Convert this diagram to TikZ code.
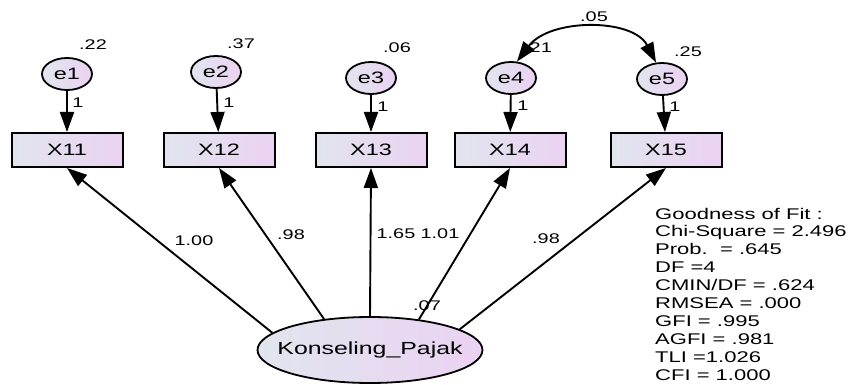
\documentclass[tikz,border=0pt]{standalone}
\usepackage{fontspec}
\setmainfont{Liberation Sans}
\usetikzlibrary{arrows.meta,shapes.geometric}
\definecolor{gl}{RGB}{225,229,238}
\definecolor{gr}{RGB}{235,210,242}
\newcommand{\hs}[1]{\scalebox{1.42}[1]{#1}}
\begin{document}
\begin{tikzpicture}[x=1pt,y=-1pt,
 obs/.style={draw, line width=2pt, left color=gl, right color=gr, minimum width=111pt, minimum height=34pt, inner sep=0pt, font=\fontsize{16.5}{18}\selectfont},
 err/.style={ellipse, draw, line width=1.8pt, left color=gl, right color=gr, minimum width=50pt, minimum height=32pt, inner sep=0pt, font=\fontsize{16.5}{18}\selectfont},
 lat/.style={ellipse, draw, line width=1.8pt, left color=gl, right color=gr, minimum width=225pt, minimum height=66pt, inner sep=0pt, font=\fontsize{17.5}{20}\selectfont},
 num/.style={inner sep=0pt, font=\fontsize{14}{16}\selectfont},
 fittext/.style={inner sep=0pt, font=\fontsize{15.5}{17.9}\selectfont},
 arr/.style={-{Triangle[length=20pt,width=14pt]}, line width=1.9pt},
 cov/.style={{Triangle[length=20pt,width=14pt]}-{Triangle[length=20pt,width=14pt]}, line width=1.9pt}]
\useasboundingbox (0,0) rectangle (854,385);
% observed variables
\node[obs] (x11) at (67,150) {\hs{X11}};
\node[obs] (x12) at (219,150) {\hs{X12}};
\node[obs] (x13) at (371,150) {\hs{X13}};
\node[obs] (x14) at (510,150) {\hs{X14}};
\node[obs] (x15) at (666,150) {\hs{X15}};
% errors
\node[err] (e1) at (67,74) {\hs{e1}};
\node[err] (e2) at (216,72) {\hs{e2}};
\node[err] (e3) at (371,78) {\hs{e3}};
\node[err] (e4) at (511,78) {\hs{e4}};
\node[err] (e5) at (662,79) {\hs{e5}};
% latent
\node[lat] (kp) at (370,350) {\makebox[0pt]{\hs{Konseling\_Pajak}}};
% variance labels
\node[num] (v1) at (93,45) {\hs{.22}};
\node[num] (v2) at (241,44) {\hs{.37}};
\node[num] (v3) at (397,48) {\hs{.06}};
\node[num] (v4) at (538,48) {\hs{.21}};
\node[num] (v5) at (688,52) {\hs{.25}};
\node[num] (cv) at (594,17) {\hs{.05}};
\node[num] (vk) at (427,306) {\hs{.07}};
% error paths
\draw[arr] (e1) -- (x11);
\draw[arr] (e2) -- (x12);
\draw[arr] (e3) -- (x13);
\draw[arr] (e4) -- (x14);
\draw[arr] (e5) -- (x15);
\node[num] (l1) at (78,103) {\hs{1}};
\node[num] (l2) at (229,103) {\hs{1}};
\node[num] (l3) at (383,107) {\hs{1}};
\node[num] (l4) at (523,106) {\hs{1}};
\node[num] (l5) at (675,107) {\hs{1}};
% covariance
\draw[cov] (e4.70) .. controls (550,18) and (633,18) .. (e5.110);
% loadings
\draw[arr] (kp.170) -- (x11.south);
\draw[arr] (kp.146) -- (x12.south);
\draw[arr] (kp.90) -- (x13.south);
\draw[arr] (kp.32) -- (x14.south);
\draw[arr] (kp.13) -- (x15.south);
\node[num] (p1) at (194,241) {\hs{1.00}};
\node[num] (p2) at (291,235) {\hs{.98}};
\node[num] (p3) at (396,234) {\hs{1.65}};
\node[num] (p4) at (440,234) {\hs{1.01}};
\node[num] (p5) at (546,239) {\hs{.98}};
% fit
\node[fittext, anchor=base west] (gof) at (655,219) {\hs{\begin{tabular}[t]{@{}l@{}}Goodness of Fit :\\
Chi-Square = 2.496\\
Prob.\ \ = .645\\
DF =4\\
CMIN/DF = .624\\
RMSEA = .000\\
GFI = .995\\
AGFI = .981\\
TLI =1.026\\
CFI = 1.000\end{tabular}}};
\end{tikzpicture}
\end{document}
